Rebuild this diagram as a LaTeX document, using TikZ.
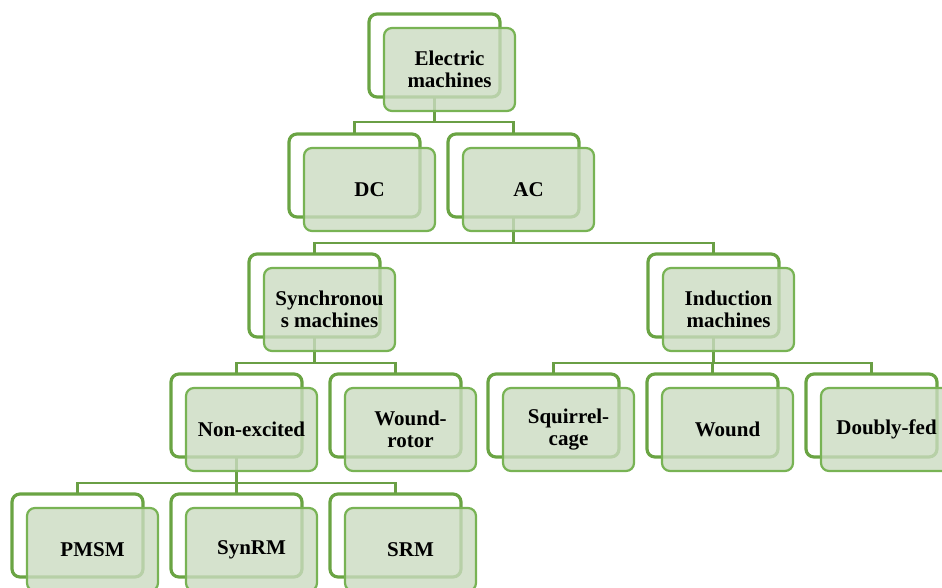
\documentclass[tikz,border=0pt]{standalone}
\usepackage{fontspec}
\setmainfont{Liberation Serif}
\pgfdeclarelayer{background}
\pgfsetlayers{background,main}
\definecolor{gdark}{HTML}{6AA443}
\definecolor{glight}{HTML}{78B354}
\definecolor{gfill}{HTML}{CBDBC1}
\definecolor{gline}{HTML}{6A9F45}
\tikzset{
  backbox/.style={draw=gdark, line width=3.2pt, fill=white, rounded corners=8pt,
    minimum width=131pt, minimum height=83pt, anchor=north west, inner sep=0pt, outer sep=0pt},
  frontbox/.style={draw=glight, line width=2.2pt, fill=gfill, fill opacity=0.8, draw opacity=1, text opacity=1,
    rounded corners=8pt, minimum width=131pt, minimum height=83pt, anchor=north west,
    align=center, inner sep=0pt, outer sep=0pt,
    font=\fontsize{21}{22}\selectfont\bfseries},
  conn/.style={draw=gline, line width=2.4pt}
}
\newcommand{\mitem}[4]{%
  \node[backbox] (#1) at (#2,#3) {};
  \node[frontbox] (#1f) at (#2+15,#3+14) {#4};}
\begin{document}
\begin{tikzpicture}[x=1pt,y=-1pt]
\useasboundingbox (0,0) rectangle (942,588);
\clip (0,0) rectangle (942,588);
\mitem{em}{369}{14}{Electric\\machines}
\mitem{dc}{289}{134}{DC}
\mitem{ac}{448}{134}{AC}
\mitem{sy}{249}{254}{Synchronou\\s machines}
\mitem{in}{648}{254}{Induction\\machines}
\mitem{ne}{171}{374}{Non-excited}
\mitem{wr}{330}{374}{Wound-\\rotor}
\mitem{sq}{488}{374}{Squirrel-\\cage}
\mitem{wo}{647}{374}{Wound}
\mitem{df}{806}{374}{Doubly-fed}
\mitem{pm}{12}{494}{PMSM}
\mitem{sr}{171}{494}{SynRM\vphantom{S}}
\mitem{srm}{330}{494}{SRM}
\begin{pgfonlayer}{background}
  \draw[conn] (dc.north) -- ([yshift=12pt]dc.north) -| (ac.north);
  \draw[conn] (em.south) -- ([yshift=12pt]dc.north -| em.south);
  \draw[conn] (sy.north) -- ([yshift=11pt]sy.north) -| (in.north);
  \draw[conn] (ac.south) -- ([yshift=11pt]sy.north -| ac.south);
  \draw[conn] (ne.north) -- ([yshift=11pt]ne.north) -| (wr.north);
  \draw[conn] (sy.south) -- ([yshift=11pt]ne.north -| sy.south);
  \draw[conn] (sq.north) -- ([yshift=11pt]sq.north) -| (df.north);
  \draw[conn] (wo.north) -- ([yshift=11pt]wo.north);
  \draw[conn] (in.south) -- ([yshift=11pt]sq.north -| in.south);
  \draw[conn] (pm.north) -- ([yshift=11pt]pm.north) -| (srm.north);
  \draw[conn] (sr.north) -- ([yshift=11pt]sr.north);
  \draw[conn] (ne.south) -- ([yshift=11pt]pm.north -| ne.south);
\end{pgfonlayer}
\end{tikzpicture}
\end{document}
